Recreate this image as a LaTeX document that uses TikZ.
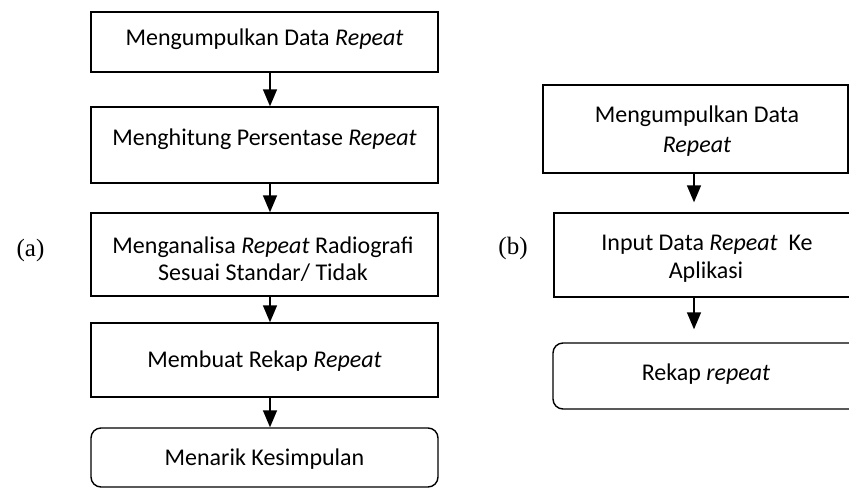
\documentclass[tikz,border=0pt]{standalone}
\usepackage{fontspec}
\setmainfont{Carlito}
\newfontfamily\lblfont{Liberation Serif}
\usetikzlibrary{arrows.meta}
\begin{document}
\begin{tikzpicture}[x=1pt,y=-1pt,
  box/.style={draw, line width=1.4pt, inner sep=0pt},
  rbox/.style={box, rounded corners=10pt},
  txt/.style={anchor=base, inner sep=0pt, font=\fontsize{24}{29}\selectfont},
  lbl/.style={anchor=base, inner sep=0pt, font=\lblfont\fontsize{25}{30}\selectfont},
  arr/.style={line width=1.5pt, -{Triangle[width=14pt,length=17pt]}}]
\useasboundingbox (0,0) rectangle (849,488);
\clip (0,0) rectangle (849,488);
% left column
\node[box, minimum width=347pt, minimum height=60pt] (b1) at (264.5,42) {};
\node[box, minimum width=347pt, minimum height=76pt] (b2) at (264.5,145) {};
\node[box, minimum width=347pt, minimum height=83pt] (b3) at (264.5,254.5) {};
\node[box, minimum width=347pt, minimum height=74pt] (b4) at (264.5,360) {};
\node[rbox, minimum width=347pt, minimum height=59pt] (b5) at (264.5,457.5) {};
\node[txt] (t1) at (264.5,45) {Mengumpulkan Data \textit{Repeat}};
\node[txt] (t2) at (264.5,145) {Menghitung Persentase \textit{Repeat}};
\node[txt] (t3a) at (263,253) {Menganalisa \textit{Repeat} Radiografi};
\node[txt] (t3b) at (263,280) {Sesuai Standar/ Tidak};
\node[txt] (t4) at (264.5,367) {Membuat Rekap \textit{Repeat}};
\node[txt] (t5) at (264.5,465) {Menarik Kesimpulan};
\draw[arr] ([xshift=5.5pt]b1.south) -- ([xshift=5.5pt]b2.north);
\draw[arr] ([xshift=5.5pt]b2.south) -- ([xshift=5.5pt]b3.north);
\draw[arr] ([xshift=5.5pt]b3.south) -- ([xshift=5.5pt]b4.north);
\draw[arr] ([xshift=5.5pt]b4.south) -- ([xshift=5.5pt]b5.north);
% right column
\node[box, minimum width=305pt, minimum height=88pt] (r1) at (695.5,129) {};
\node[box, minimum width=306pt, minimum height=84pt] (r2) at (707,255) {};
\node[rbox, minimum width=306pt, minimum height=66pt] (r3) at (706,376) {};
\node[txt] (u1a) at (697,122) {Mengumpulkan Data};
\node[txt] (u1b) at (697,152) {\textit{Repeat}};
\node[txt] (u2a) at (707,250) {Input Data \textit{Repeat}\ \ Ke};
\node[txt] (u2b) at (706,278) {Aplikasi};
\node[txt] (u3) at (706,380) {Rekap \textit{repeat}};
\draw[arr, shorten >=10pt] ([xshift=-1.5pt]r1.south) -- ([xshift=-13pt]r2.north);
\draw[arr, shorten >=13pt] ([xshift=-13pt]r2.south) -- ([xshift=-12pt]r3.north);
% labels
\node[lbl] (la) at (30.5,256) {(a)};
\node[lbl] (lb) at (513,254) {(b)};
\end{tikzpicture}
\end{document}
